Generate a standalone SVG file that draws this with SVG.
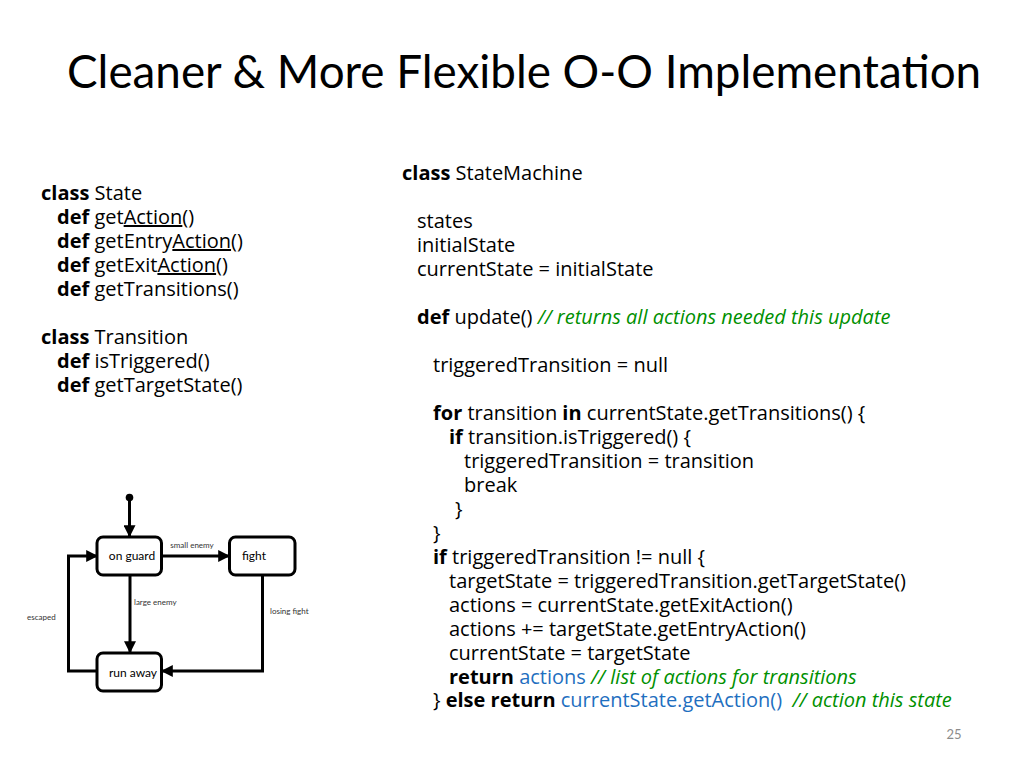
<svg xmlns="http://www.w3.org/2000/svg" width="1024" height="768" viewBox="0 0 1024 768">
<defs>
<style>
.title{font-family:Lato,"Liberation Sans",sans-serif;font-size:45.8px;fill:#000}
.code{font-family:"Open Sans","Noto Sans",sans-serif;font-size:20px;fill:#000}
.kw{font-weight:bold}
.cm{fill:#009000;font-style:italic}
.bl{fill:#1f6fc0}
.u{text-decoration:underline}
.node rect{fill:#fff;stroke:#000;stroke-width:3}
.nlabel{font-family:Lato,"Liberation Sans",sans-serif;font-size:12px;fill:#000}
.elabel{font-family:Lato,"Liberation Sans",sans-serif;font-size:8px;fill:#333}
.edge{fill:none;stroke:#000;stroke-width:3}
.pg{font-family:Lato,"Liberation Sans",sans-serif;font-size:13px;fill:#8c8c8c}
</style>
<marker id="ah" viewBox="0 0 10 10" refX="9" refY="5" markerWidth="4" markerHeight="4" markerUnits="strokeWidth" orient="auto">
<path d="M0,0 L10,5 L0,10 z" fill="#000"/>
</marker>
</defs>
<rect width="1024" height="768" fill="#fff"/>
<text class="title" x="67" y="88">Cleaner &amp; More Flexible O-O Implementation</text>

<g id="code-left" class="code">
<text x="41" y="200"><tspan class="kw">class</tspan> State</text>
<text x="57" y="224"><tspan class="kw">def</tspan> get<tspan class="u">Action</tspan>()</text>
<text x="57" y="248"><tspan class="kw">def</tspan> getEntry<tspan class="u">Action</tspan>()</text>
<text x="57" y="272"><tspan class="kw">def</tspan> getExit<tspan class="u">Action</tspan>()</text>
<text x="57" y="296"><tspan class="kw">def</tspan> getTransitions()</text>
<text x="41" y="344"><tspan class="kw">class</tspan> Transition</text>
<text x="57" y="368"><tspan class="kw">def</tspan> isTriggered()</text>
<text x="57" y="392"><tspan class="kw">def</tspan> getTargetState()</text>
</g>

<g id="code-right" class="code">
<text x="402" y="180"><tspan class="kw">class</tspan> StateMachine</text>
<text x="417" y="228">states</text>
<text x="417" y="252">initialState</text>
<text x="417" y="276">currentState = initialState</text>
<text x="417" y="324"><tspan class="kw">def</tspan> update() <tspan class="cm">// returns all actions needed this update</tspan></text>
<text x="433" y="372">triggeredTransition = null</text>
<text x="433" y="420"><tspan class="kw">for</tspan> transition <tspan class="kw">in</tspan> currentState.getTransitions() {</text>
<text x="449" y="444"><tspan class="kw">if</tspan> transition.isTriggered() {</text>
<text x="464" y="468">triggeredTransition = transition</text>
<text x="464" y="492">break</text>
<text x="455" y="516">}</text>
<text x="433" y="540">}</text>
<text x="433" y="564"><tspan class="kw">if</tspan> triggeredTransition != null {</text>
<text x="449" y="588">targetState = triggeredTransition.getTargetState()</text>
<text x="449" y="612">actions = currentState.getExitAction()</text>
<text x="449" y="636">actions += targetState.getEntryAction()</text>
<text x="449" y="660">currentState = targetState</text>
<text x="449" y="684"><tspan class="kw">return</tspan> <tspan class="bl">actions</tspan> <tspan class="cm">// list of actions for transitions</tspan></text>
<text x="433" y="707" style="white-space:pre">} <tspan class="kw">else return</tspan> <tspan class="bl">currentState.getAction()</tspan>  <tspan class="cm">// action this state</tspan></text>
</g>

<g id="connectors">
<line class="edge" x1="129.5" y1="498" x2="129.5" y2="536" marker-end="url(#ah)"/>
<line class="edge" x1="162" y1="556" x2="229" y2="556" marker-end="url(#ah)"/>
<line class="edge" x1="130" y1="575" x2="130" y2="652" marker-end="url(#ah)"/>
<polyline class="edge" points="262.5,575 262.5,671 162,671" marker-end="url(#ah)"/>
<polyline class="edge" points="97,671 68.5,671 68.5,556 97,556" marker-end="url(#ah)"/>
<text class="elabel" x="192" y="548" text-anchor="middle">small enemy</text>
<text class="elabel" x="134" y="605">large enemy</text>
<text class="elabel" x="270" y="614">losing fight</text>
<text class="elabel" x="27" y="620">escaped</text>
</g>

<g id="initial"><circle cx="129.5" cy="497.5" r="3.8" fill="#000"/></g>
<g id="node-onguard" class="node">
<rect x="97" y="537" width="64.5" height="38" rx="6"/>
<text class="nlabel" x="132" y="560" text-anchor="middle">on guard</text>
</g>
<g id="node-fight" class="node">
<rect x="229.5" y="537" width="65.5" height="38" rx="6"/>
<text class="nlabel" x="242" y="560">fight</text>
</g>
<g id="node-runaway" class="node">
<rect x="97" y="653" width="64.5" height="38" rx="6"/>
<text class="nlabel" x="133" y="677" text-anchor="middle">run away</text>
</g>

<text class="pg" x="954" y="739" text-anchor="middle">25</text>
</svg>
